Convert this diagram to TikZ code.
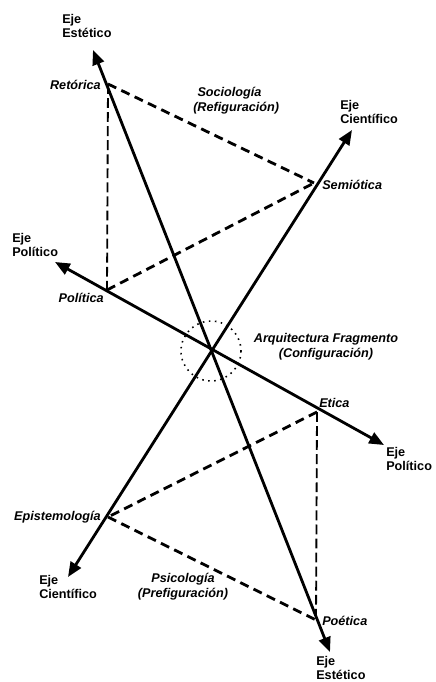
\documentclass[tikz,border=0pt]{standalone}
\usepackage{fontspec}
\setmainfont{Liberation Sans}
\usetikzlibrary{arrows.meta}

\begin{document}
\begin{tikzpicture}[x=0.025cm,y=-0.025cm]
    \tikzset{axis/.style = {line width=2pt, {Triangle[length=10.5pt,width=8.5pt]}-{Triangle[length=10.5pt,width=8.5pt]}}}
    \tikzset{link/.style = {line width=2pt, dash pattern=on 6.5pt off 4pt}}
    \tikzset{plumb/.style = {line width=1.3pt, dash pattern=on 7pt off 3pt}}
    \tikzset{axlabel/.style = {font=\fontsize{9}{10.6}\selectfont\bfseries, align=left, inner sep=0pt}}
    \tikzset{ptlabel/.style = {font=\fontsize{9}{10.6}\selectfont\bfseries\itshape, inner sep=0pt}}

    \useasboundingbox (0,0) rectangle (435,682);

    % axis ends
    \coordinate (et) at (93,50);
    \coordinate (eb) at (330,652);
    \coordinate (ct) at (352,130);
    \coordinate (cb) at (68,577);
    \coordinate (pl) at (55,262);
    \coordinate (pr) at (384,445);
    \coordinate (o) at (211,351);

    % points
    \coordinate (ret) at (108,84);
    \coordinate (sem) at (314,183);
    \coordinate (pol) at (107,290);
    \coordinate (eti) at (317,412);
    \coordinate (epi) at (108,517);
    \coordinate (poe) at (316,620);

    % triangles
    \draw[link] (ret) -- (sem);
    \draw[link] (pol) -- (sem);
    \draw[plumb] (ret) -- (pol);
    \draw[link] (eti) -- (epi);
    \draw[link] (epi) -- (poe);
    \draw[plumb] (eti) -- (poe);

    % axes
    \draw[axis] (eb) -- (et);
    \draw[axis] (cb) -- (ct);
    \draw[axis] (pr) -- (pl);

    \draw[line width=1.1pt, dash pattern=on 1.1pt off 3.2pt] (o) circle [radius=30];

    % labels
    \node[axlabel, anchor=west] (et-l) at (62,26) {Eje\\Estético};
    \node[axlabel, anchor=west] (ct-l) at (340,112) {Eje\\Científico};
    \node[axlabel, anchor=west] (pl-l) at (12,245) {Eje\\Político};
    \node[axlabel, anchor=west] (pr-l) at (386,459) {Eje\\Político};
    \node[axlabel, anchor=west] (cb-l) at (39,587) {Eje\\Científico};
    \node[axlabel, anchor=west] (eb-l) at (316,668) {Eje\\Estético};

    \node[ptlabel, anchor=east] (ret-l) at (101,85) {Retórica};
    \node[ptlabel, anchor=west] (sem-l) at (322,185) {Semiótica};
    \node[ptlabel, anchor=east] (pol-l) at (104,298) {Política};
    \node[ptlabel, anchor=west] (eti-l) at (319,403) {Etica};
    \node[ptlabel, anchor=east] (epi-l) at (101,517) {Epistemología};
    \node[ptlabel, anchor=west] (poe-l) at (322,621) {Poética};

    \node[ptlabel, align=left, anchor=west] (soc) at (193,101) {\hspace*{3pt}Sociología\\(Refiguración)};
    \node[ptlabel, align=center] (arq) at (326,347) {Arquitectura Fragmento\\(Configuración)};
    \node[ptlabel, align=center] (psi) at (183,587) {Psicología\\(Prefiguración)};
\end{tikzpicture}
\end{document}
